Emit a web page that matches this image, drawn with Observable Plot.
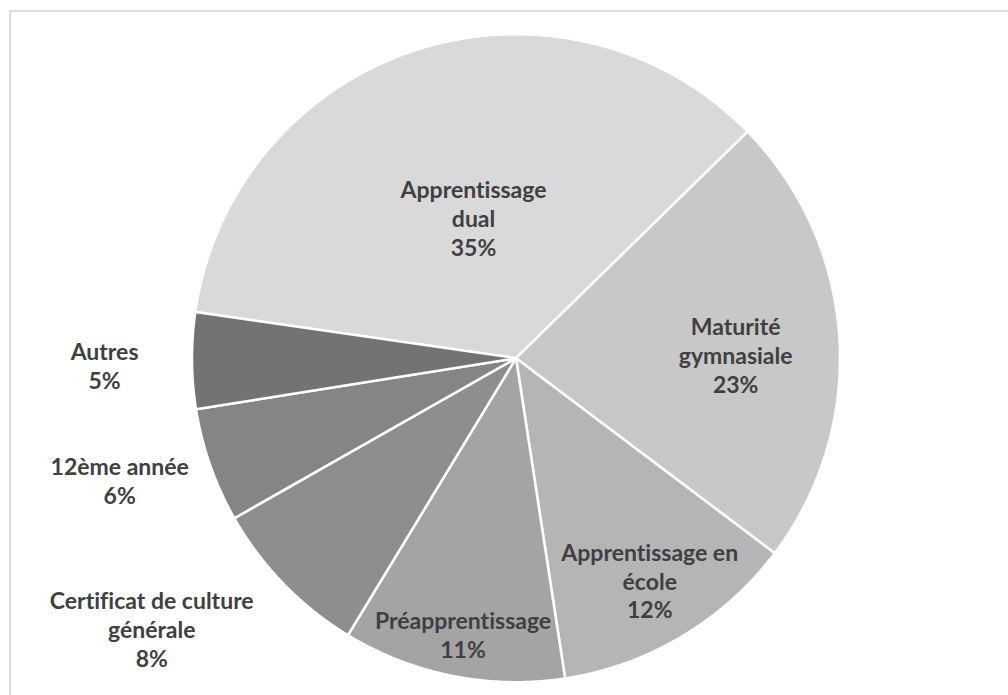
<!DOCTYPE html>
<html><head><meta charset="utf-8">
<script src="https://cdn.jsdelivr.net/npm/d3@7"></script>
<script src="https://cdn.jsdelivr.net/npm/@observablehq/plot@0.6"></script>
<style>
body{margin:0;background:#fff;}
#wrap{position:relative;width:1008px;height:695px;overflow:hidden;}
#frame{position:absolute;left:9px;top:10px;right:-5px;bottom:-5px;border-top:2px solid #dcdcdc;border-left:2px solid #dcdcdc;}
#chart{position:absolute;left:0;top:0;}
#chart text{font-variant-ligatures:none;}
</style></head><body>
<div id="wrap"><div id="frame"></div><div id="chart"></div></div>
<script>
const categories = ["Apprentissage dual","Maturité gymnasiale","Apprentissage en école","Préapprentissage","Certificat de culture générale","12ème année","Autres"];
const labelLines = ["Apprentissage\ndual","Maturité\ngymnasiale","Apprentissage en\nécole","Préapprentissage","Certificat de culture\ngénérale","12ème année","Autres"];
const shares = [35.4, 22.6, 12.3, 11.1, 8.1, 5.7, 4.8];
const percentLabels = ["35%","23%","12%","11%","8%","6%","5%"];
const colors = ["#d9d9d9","#c8c8c8","#b5b5b5","#a4a4a4","#8e8e8e","#858585","#737373"];

// label layout (radius factor, angle nudge in degrees relative to slice middle)
const labelRadius = [0.454, 0.678, 0.80, 0.868, 1.40, 1.28, 1.27];
const labelNudge = [1.3, 2.8, -0.2, -0.4, 7.6, 2.2, -0.5];

const deg = Math.PI / 180;
const start = -81.8 * deg;
const arcs = d3.pie().sort(null).startAngle(start).endAngle(start + 2 * Math.PI)(shares);

const pts = [];
arcs.forEach((a, i) => {
  pts.push({cat: categories[i], x: 0, y: 0});
  const n = Math.max(2, Math.ceil((a.endAngle - a.startAngle) / (0.25 * deg)));
  for (let k = 0; k <= n; k++) {
    const t = a.startAngle + (a.endAngle - a.startAngle) * k / n;
    pts.push({cat: categories[i], x: Math.sin(t), y: Math.cos(t)});
  }
});

const labels = arcs.map((a, i) => {
  const m = (a.startAngle + a.endAngle) / 2 + labelNudge[i] * deg;
  return {x: labelRadius[i] * Math.sin(m), y: labelRadius[i] * Math.cos(m), text: labelLines[i] + "\n" + percentLabels[i]};
});

const chart = Plot.plot({
  width: 1008, height: 695,
  marginTop: 0, marginRight: 0, marginBottom: 0, marginLeft: 0,
  x: {domain: [-1, 1], range: [191.5, 839.5], axis: null},
  y: {domain: [-1, 1], range: [681.7, 33.7], axis: null},
  color: {domain: categories, range: colors},
  style: {background: "transparent"},
  marks: [
    Plot.line(pts, {x: "x", y: "y", z: "cat", fill: "cat", stroke: "white", strokeWidth: 2.5, strokeLinejoin: "round", curve: "linear-closed"}),
    Plot.text(labels, {x: "x", y: "y", text: "text", fontSize: 23, fontWeight: "bold", fill: "#404040", lineHeight: 1.26, fontFamily: "Lato"})
  ]
});
document.getElementById("chart").appendChild(chart);
</script>
</body></html>
